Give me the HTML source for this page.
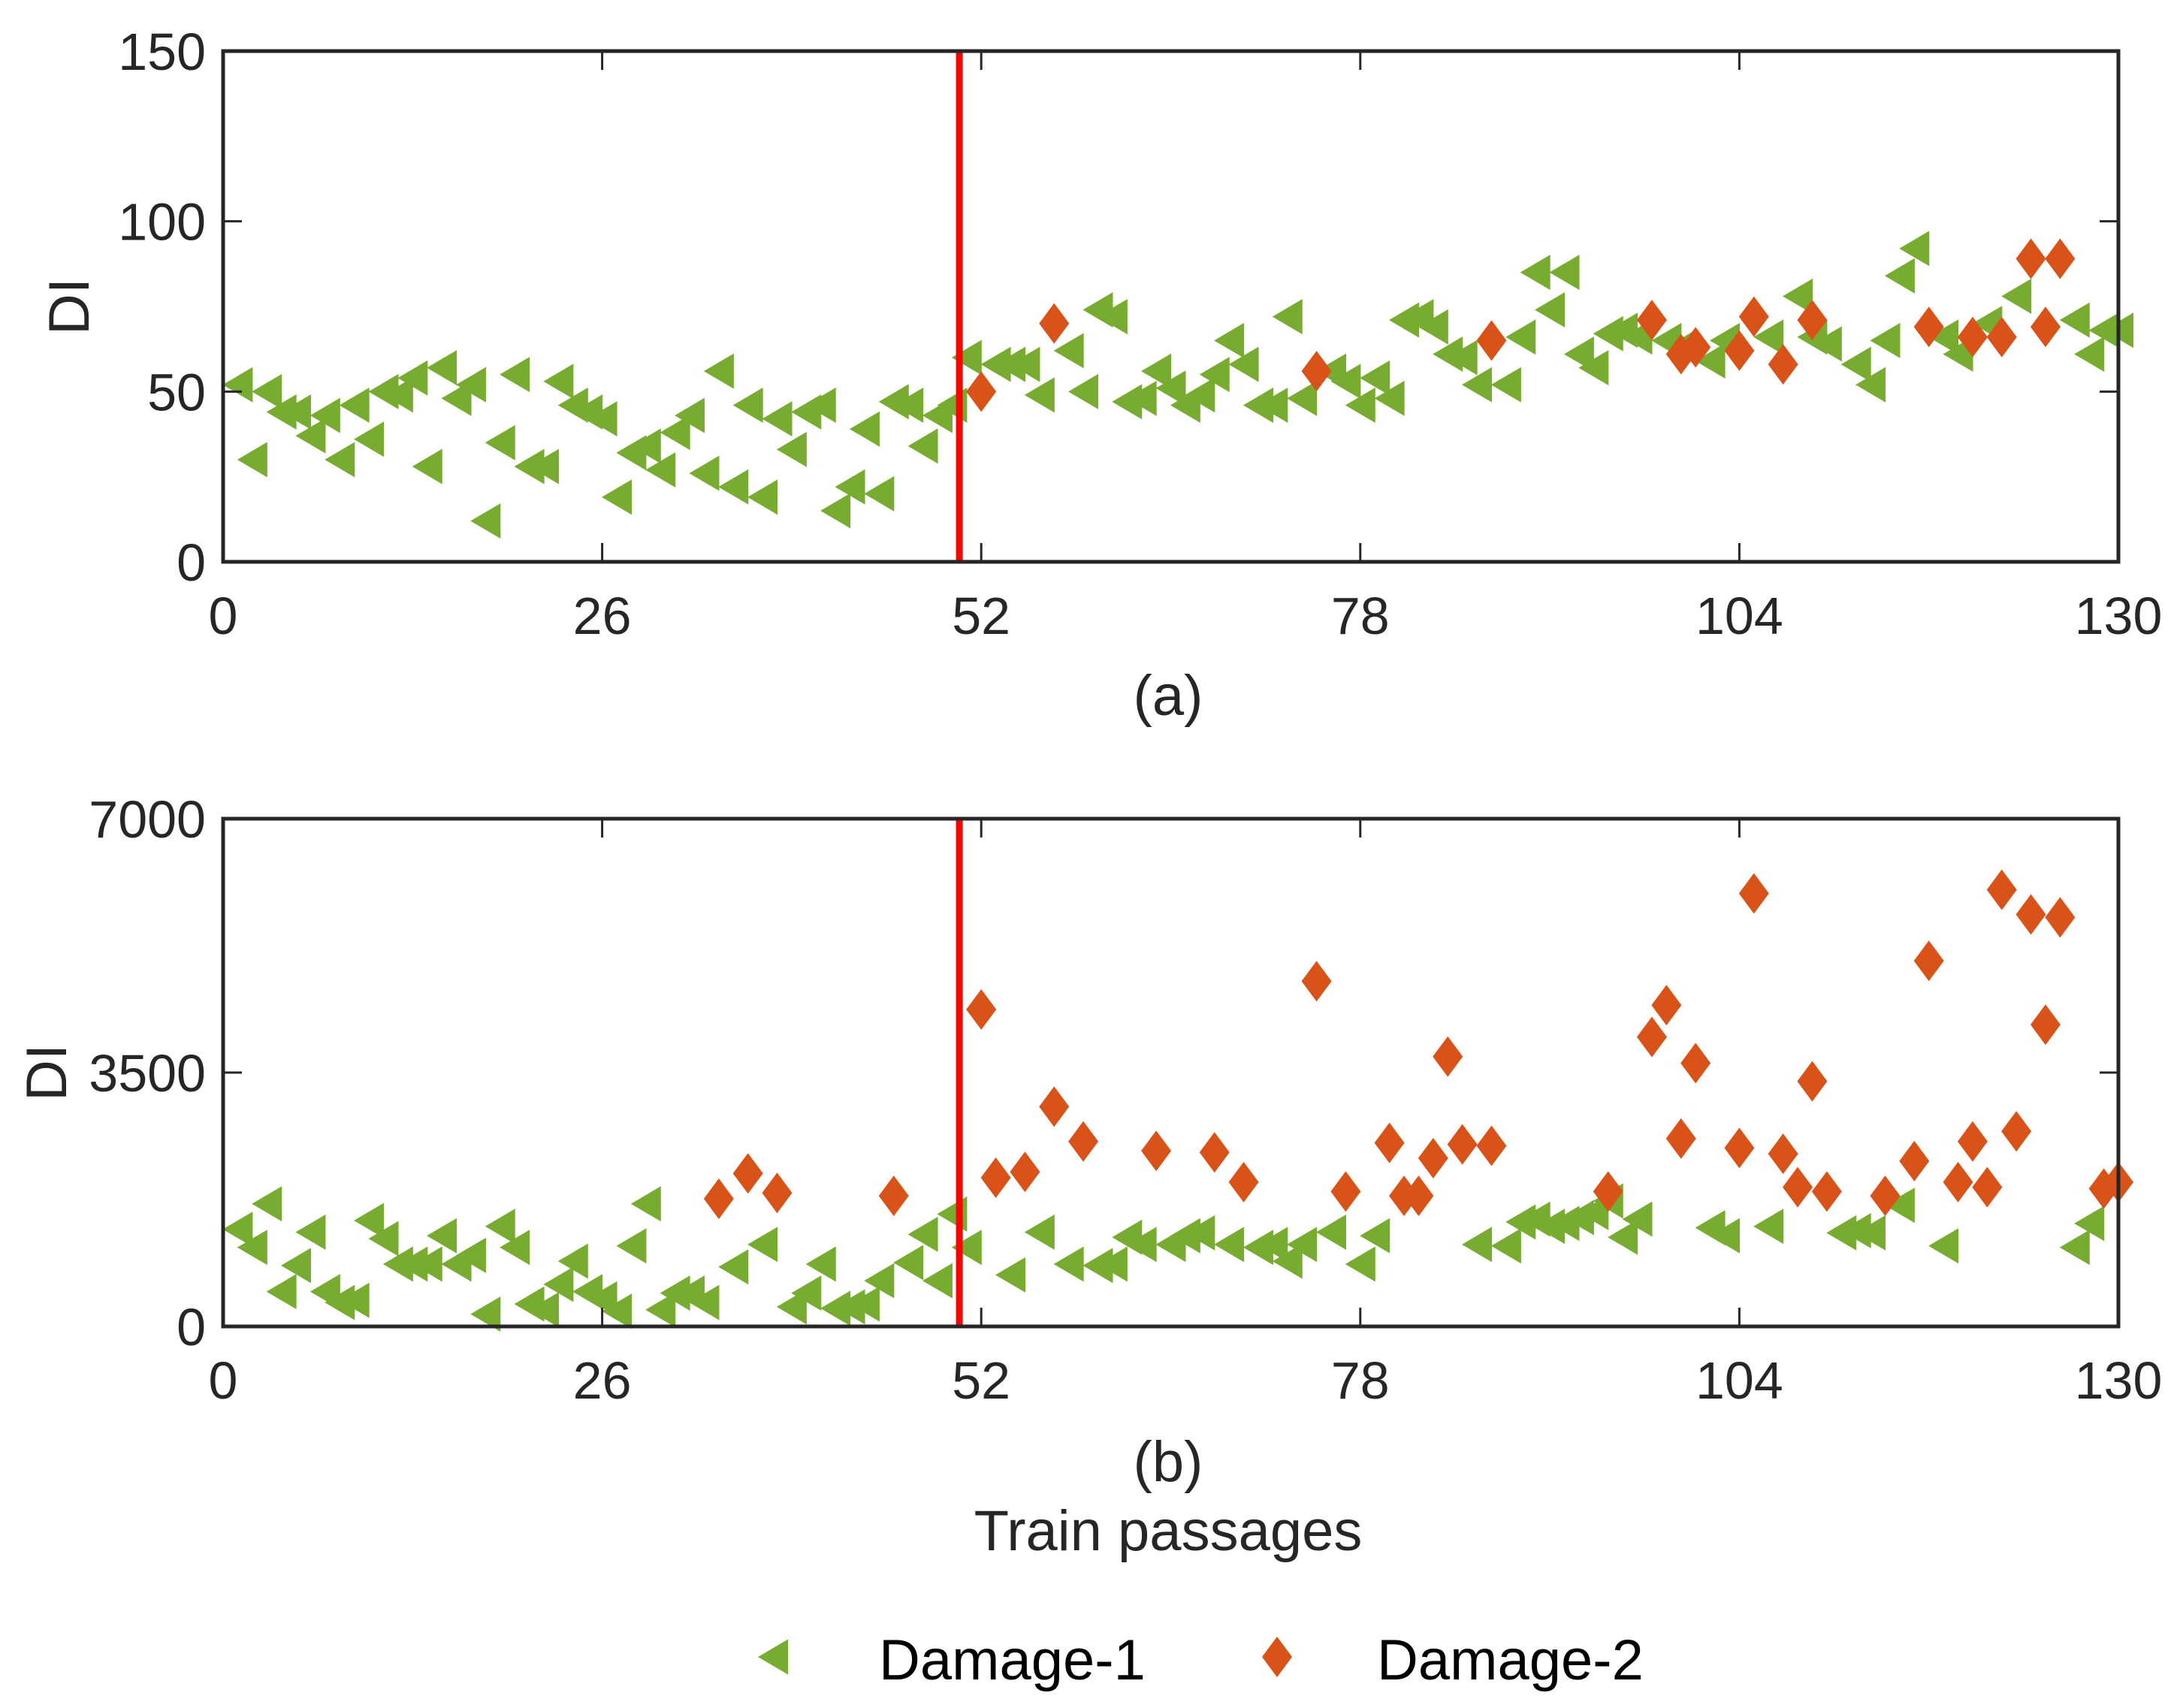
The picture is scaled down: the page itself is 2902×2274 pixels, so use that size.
<!DOCTYPE html>
<html><head><meta charset="utf-8"><style>
html,body{margin:0;padding:0;background:#fff;}
svg{display:block;font-family:"Liberation Sans",Arial,sans-serif;}
</style></head><body>
<svg id="chart" width="2902" height="2274" viewBox="0 0 2902 2274"></svg>
<script>
const xTicks = [0, 26, 52, 78, 104, 130];
const yTicksA = [0, 50, 100, 150];
const yTicksB = [0, 3500, 7000];
const thresholdX = 50.5;

const d1aX = [1,2,3,4,5,6,7,8,9,10,11,12,13,14,15,16,17,18,19,20,21,22,23,24,25,26,27,28,29,30,31,32,33,34,35,36,37,38,39,40,41,42,43,44,45,46,47,48,49,50,51,53,54,55,56,58,59,60,61,62,63,64,65,66,67,68,69,70,71,72,73,74,76,77,78,79,80,81,82,83,84,85,86,88,89,90,91,92,93,94,95,96,97,99,100,102,103,106,108,109,110,112,113,114,115,116,118,119,121,123,127,128,129,130];
const d1aY = [52,30,50,44,44,37,43,30,46,36,50,49,54,28,57,48,52,12,35,55,28,28,53,46,44,42,19,32,34,27,38,43,26,56,22,46,19,42,33,44,46,15,22,39,20,47,46,34,43,46,60,58,58,58,49,62,50,74,72,47,48,56,51,46,49,55,65,58,46,46,72,48,56,53,46,54,48,71,72,69,61,60,52,52,66,85,74,85,61,57,67,68,66,65,63,59,65,66,78,66,64,58,52,65,84,92,66,61,70,78,71,61,68,68];
const d2aX = [52,57,75,87,98,100,101,104,105,107,109,117,120,122,124,125,126];
const d2aY = [50,70,56,65,71,61,63,62,72,58,71,69,66,66,89,69,89];

const d1bX = [1,2,3,4,5,6,7,8,9,10,11,12,13,14,15,16,17,18,19,20,21,22,23,24,25,26,27,28,29,30,31,32,33,35,37,39,40,41,42,43,44,45,47,48,49,50,51,54,56,58,60,61,62,63,65,66,67,69,71,72,73,74,76,78,79,86,88,89,90,91,92,93,94,95,96,97,102,103,106,111,112,113,115,118,127,128];
const d1bY = [1340,1090,1690,480,840,1300,480,330,360,1460,1210,860,860,860,1250,860,980,170,1380,1090,310,230,580,900,480,380,210,1110,1690,230,460,460,330,820,1130,270,460,860,250,270,310,630,880,1270,630,1550,1090,710,1300,860,840,860,1230,1130,1130,1250,1290,1130,1090,1130,900,1130,1300,860,1250,1130,1110,1440,1480,1380,1420,1500,1570,1730,1230,1480,1360,1250,1380,1290,1320,1290,1670,1110,1090,1420];
const d2bX = [34,36,38,46,52,53,55,57,59,64,68,70,75,77,80,81,82,83,84,85,87,95,98,99,100,101,104,105,107,108,109,110,114,116,117,119,120,121,122,123,124,125,126,129,130];
const d2bY = [1760,2110,1840,1800,4370,2050,2130,3030,2550,2420,2400,1990,4760,1860,2530,1800,1800,2320,3720,2510,2490,1860,3990,4430,2590,3630,2460,5970,2380,1920,3380,1860,1800,2280,5040,1990,2550,1920,6020,2690,5680,4160,5640,1900,1990];

const NS = 'http://www.w3.org/2000/svg';
const svg = document.getElementById('chart');
const GREEN = '#77AC30', ORANGE = '#D95319', INK = '#262626';
const X0 = 297, X1 = 2820;
function xs(v){ return X0 + (v - 0) / 130 * (X1 - X0); }
function mk(tag, attrs, parent){ const e = document.createElementNS(NS, tag); for (const k in attrs) e.setAttribute(k, attrs[k]); (parent||svg).appendChild(e); return e; }
function tri(cx, cy){ return `${cx-20},${cy} ${cx+20},${cy-23.5} ${cx+20},${cy+23.5}`; }
function dia(cx, cy){ return `${cx},${cy-27} ${cx+20},${cy} ${cx},${cy+27} ${cx-20},${cy}`; }

function panel(name, top, bottom, ymax, yTicks, xsD1, ysD1, xsD2, ysD2, caption, capY, ylabX){
  const g = mk('g', {});
  
  
  const ys = v => bottom - v / ymax * (bottom - top);
  const s1 = mk('g', {}, g);
  
  
  for (let i = 0; i < xsD1.length; i++) {
    const p = mk('polygon', {points: tri(xs(xsD1[i]), ys(ysD1[i])), fill: GREEN}, s1);
    
    
  }
  const s2 = mk('g', {}, g);
  
  
  for (let i = 0; i < xsD2.length; i++) {
    const p = mk('polygon', {points: dia(xs(xsD2[i]), ys(ysD2[i])), fill: ORANGE}, s2);
    
    
  }
  const th = mk('line', {x1: xs(thresholdX), x2: xs(thresholdX), y1: top, y2: bottom, stroke: '#FF0000', 'stroke-width': 9}, g);
  
  
  const box = mk('rect', {x: X0, y: top, width: X1 - X0, height: bottom - top, fill: 'none', stroke: INK, 'stroke-width': 5}, g);
  
  
  for (const t of xTicks) {
    const x = xs(t);
    mk('line', {x1: x, x2: x, y1: bottom, y2: bottom - 25, stroke: INK, 'stroke-width': 3}, g);
    mk('line', {x1: x, x2: x, y1: top, y2: top + 25, stroke: INK, 'stroke-width': 3}, g);
    const tx = mk('text', {x: x, y: bottom + 96, 'text-anchor': 'middle', 'font-size': 70, fill: INK}, g);
    tx.textContent = t;
    
    
  }
  for (const t of yTicks) {
    const y = ys(t);
    mk('line', {x1: X0, x2: X0 + 25, y1: y, y2: y, stroke: INK, 'stroke-width': 3}, g);
    mk('line', {x1: X1, x2: X1 - 25, y1: y, y2: y, stroke: INK, 'stroke-width': 3}, g);
    const tx = mk('text', {x: 274, y: y + 25, 'text-anchor': 'end', 'font-size': 70, fill: INK}, g);
    tx.textContent = t;
    
    
  }
  const yl = mk('text', {x: ylabX, y: (top + bottom) / 2, 'text-anchor': 'middle', 'font-size': 76, fill: INK, transform: `rotate(-90 ${ylabX} ${(top+bottom)/2})`}, g);
  yl.textContent = 'DI';
  
  
  const cap = mk('text', {x: 1555, y: capY, 'text-anchor': 'middle', 'font-size': 76, fill: INK}, g);
  cap.textContent = caption;
  
  
}

panel('panel-a', 68, 748, 150, yTicksA, d1aX, d1aY, d2aX, d2aY, '(a)', 952, 118);
panel('panel-b', 1090, 1766, 7000, yTicksB, d1bX, d1bY, d2bX, d2bY, '(b)', 1972, 88);

const xt = mk('text', {x: 1555, y: 2064, 'text-anchor': 'middle', 'font-size': 76, fill: INK});
xt.textContent = 'Train passages';



const lg = mk('g', {});


const l1 = mk('g', {}, lg);


mk('polygon', {points: tri(1029, 2206), fill: GREEN}, l1);
const lt1 = mk('text', {x: 1170, y: 2236, 'font-size': 76, fill: '#000'}, l1);
lt1.textContent = 'Damage-1';
const l2 = mk('g', {}, lg);


mk('polygon', {points: dia(1700, 2206), fill: ORANGE}, l2);
const lt2 = mk('text', {x: 1833, y: 2236, 'font-size': 76, fill: '#000'}, l2);
lt2.textContent = 'Damage-2';
</script>
</body></html>
